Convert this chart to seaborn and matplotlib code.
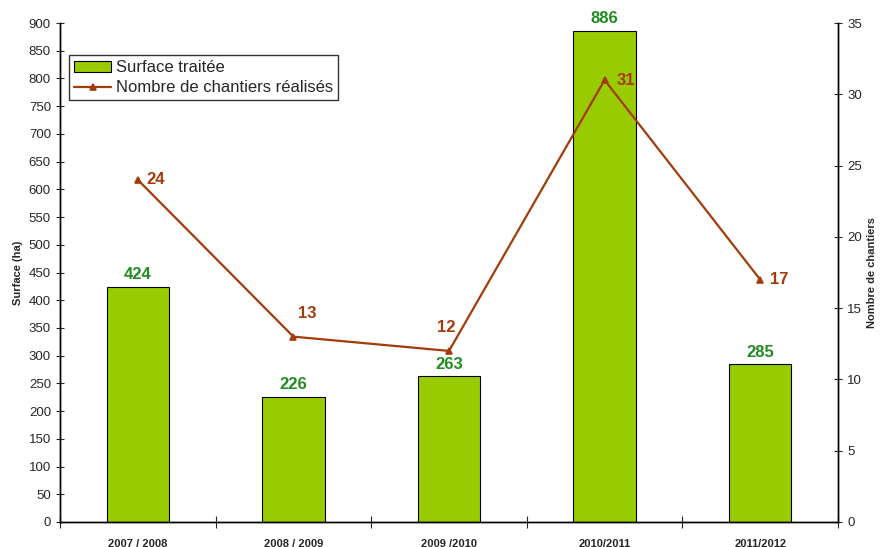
import matplotlib
matplotlib.use("Agg")
import matplotlib.pyplot as plt
import seaborn as sns
import pandas as pd
from matplotlib.ticker import MultipleLocator, FixedLocator

campagnes = ["2007 / 2008", "2008 / 2009", "2009 /2010", "2010/2011", "2011/2012"]
surface = [424, 226, 263, 886, 285]
chantiers = [24, 13, 12, 31, 17]

sns.set_style("white")
plt.rcParams['font.family'] = ['Liberation Sans', 'DejaVu Sans']

df = pd.DataFrame({"campagne": campagnes, "surface": surface, "chantiers": chantiers})

fig = plt.figure(figsize=(8.8, 5.47), dpi=100)
ax = fig.add_axes([60/880, 1 - 522/547, (838-60)/880, (522-23)/547])

sns.barplot(data=df, x="campagne", y="surface", color="#99CC00", edgecolor="black",
            linewidth=0.8, width=0.4, saturation=1, ax=ax, label="Surface traitée")
ax.set_ylim(0, 900)
ax.set_xlim(-0.5, 4.5)
ax.yaxis.set_major_locator(MultipleLocator(50))
ax.set_ylabel("Surface (ha)", fontsize=8, fontweight="bold")
ax.set_xlabel("")
ax.tick_params(axis="y", labelsize=9.5, direction="inout", length=6, width=0.8, left=True)
ax.tick_params(axis="x", which="major", length=0, labelsize=8, pad=12)
for t in ax.get_xticklabels():
    t.set_fontweight("bold")
ax.xaxis.set_minor_locator(FixedLocator([-0.5, 0.5, 1.5, 2.5, 3.5, 4.5]))
ax.tick_params(axis="x", which="minor", direction="inout", length=8, width=0.8, bottom=True)

for i, v in enumerate(surface):
    ax.text(i, v + 8, str(v), ha="center", va="bottom", color="#228B22",
            fontsize=12, fontweight="bold")

line_color = "#A33B0A"
ax2 = ax.twinx()
sns.pointplot(data=df, x="campagne", y="chantiers", color=line_color, markers="^",
              linestyles="-", markersize=5, linewidth=1.6, ax=ax2,
              label="Nombre de chantiers réalisés")
ax2.set_ylim(0, 35)
ax2.set_xlim(-0.5, 4.5)
ax2.yaxis.set_major_locator(MultipleLocator(5))
ax2.set_ylabel("Nombre de chantiers", fontsize=8, fontweight="bold")
ax2.set_xlabel("")
ax2.tick_params(axis="y", labelsize=9.5, direction="inout", length=6, width=0.8, right=True)

offsets = [(0.055, 0, "left", "center"), (0.09, 1.1, "center", "bottom"),
           (-0.02, 1.1, "center", "bottom"), (0.075, 0, "left", "center"),
           (0.06, 0, "left", "center")]
for i, v in enumerate(chantiers):
    dx, dy, ha, va = offsets[i]
    ax2.text(i + dx, v + dy, str(v), ha=ha, va=va, color=line_color,
             fontsize=12, fontweight="bold")

for a in (ax, ax2):
    for s in ["left", "right", "bottom"]:
        a.spines[s].set_color("black")
        a.spines[s].set_linewidth(1)
    a.spines["top"].set_visible(False)

h1, l1 = ax.get_legend_handles_labels()
h2, l2 = ax2.get_legend_handles_labels()
if ax.get_legend():
    ax.get_legend().remove()
if ax2.get_legend():
    ax2.get_legend().remove()
leg = ax2.legend(h1 + h2, l1 + l2, loc="upper left", bbox_to_anchor=(0.012, 0.935),
                 fontsize=12, frameon=True, fancybox=False, edgecolor="black",
                 borderpad=0.3, labelspacing=0.3, handlelength=2.2, handletextpad=0.3,
                 borderaxespad=0)
leg.get_frame().set_linewidth(1)

fig.savefig("out.png", dpi=100)
